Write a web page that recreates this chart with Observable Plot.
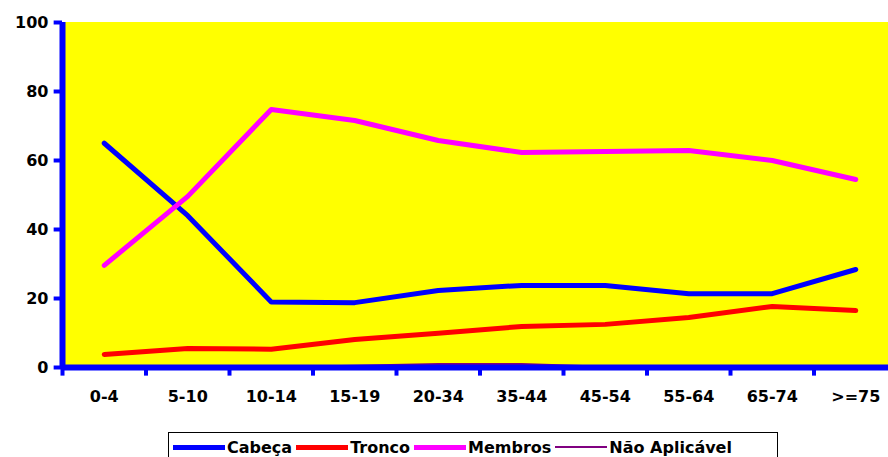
<!DOCTYPE html>
<html><head><meta charset="utf-8">
<script src="https://cdn.jsdelivr.net/npm/d3@7"></script>
<script src="https://cdn.jsdelivr.net/npm/@observablehq/plot@0.6"></script>
<style>
body{margin:0;background:#fff;font-family:"DejaVu Sans",Verdana,sans-serif;}
#wrap{position:relative;width:888px;height:457px;}
#legend{position:absolute;left:168px;top:432px;width:610px;height:30px;border:1px solid #000;box-sizing:border-box;display:flex;align-items:center;font-weight:bold;font-size:16px;background:#fff}
#legend span.it{display:flex;align-items:center;margin-left:4px}
#legend i{display:inline-block;width:52px;margin-right:2px}
</style></head><body>
<div id="wrap"><div id="chart"></div>
<div id="legend"></div></div>
<script>
const categories=["0-4","5-10","10-14","15-19","20-34","35-44","45-54","55-64","65-74",">=75"];
const cabeca=[65,44,19,18.8,22.3,23.8,23.8,21.4,21.4,28.4];
const tronco=[3.8,5.5,5.3,8.1,9.9,11.9,12.5,14.5,17.7,16.5];
const membros=[29.6,49.6,74.8,71.6,65.8,62.3,62.6,62.9,60,54.5];
const naoAplicavel=[0.2,0.1,0.1,0.5,1,1,0.2,0.2,0.2,0.1];
const yTicks=[0,20,40,60,80,100];
const series=[
 {name:"Cabeça",values:cabeca,color:"#0000FF",w:5},
 {name:"Tronco",values:tronco,color:"#FF0000",w:5},
 {name:"Membros",values:membros,color:"#FF00FF",w:5},
 {name:"Não Aplicável",values:naoAplicavel,color:"#800080",w:2}
];
const idx=categories.map((c,i)=>i);
const bounds=d3.range(categories.length+1).map(i=>i-0.5);
const marks=[
 Plot.rect([0],{x1:-0.5,x2:9.5,y1:0,y2:100,fill:"#FFFF00"}),
 ...series.map(s=>Plot.line(s.values.map((v,i)=>({i,v})),{x:"i",y:"v",stroke:s.color,strokeWidth:s.w})),
 Plot.ruleX([-0.5],{y1:0,y2:100,stroke:"#0000FF",strokeWidth:6}),
 Plot.ruleY([0],{x1:-0.5,x2:9.5,stroke:"#0000FF",strokeWidth:6}),
 Plot.ruleY(yTicks,{y:d=>d,x1:-0.6,x2:-0.5,stroke:"#0000FF",strokeWidth:4}),
 Plot.text(yTicks,{y:d=>d,x:-0.5,text:d=>String(d),dx:-14,textAnchor:"end",fontWeight:"bold",fontSize:16,fill:"#000"}),
 Plot.ruleX(bounds,{x:d=>d,y1:-2.5,y2:0,stroke:"#0000FF",strokeWidth:4}),
 Plot.text(idx,{x:d=>d,y:0,text:d=>categories[d],dy:29,fontWeight:"bold",fontSize:16,fill:"#000"})
];
const svg=Plot.plot({width:888,height:425,marginLeft:62,marginRight:-9,marginTop:22,marginBottom:58,
 style:{fontFamily:"DejaVu Sans",overflow:"visible",background:"transparent"},
 x:{type:"linear",domain:[-0.5,9.5],axis:null},
 y:{domain:[0,100],axis:null},
 marks});
document.getElementById("chart").append(svg);
const lg=document.getElementById("legend");
series.forEach(s=>{const e=document.createElement("span");e.className="it";
 e.innerHTML=`<i style="height:${s.w}px;background:${s.color}"></i>${s.name}`;lg.append(e);});
</script></body></html>
